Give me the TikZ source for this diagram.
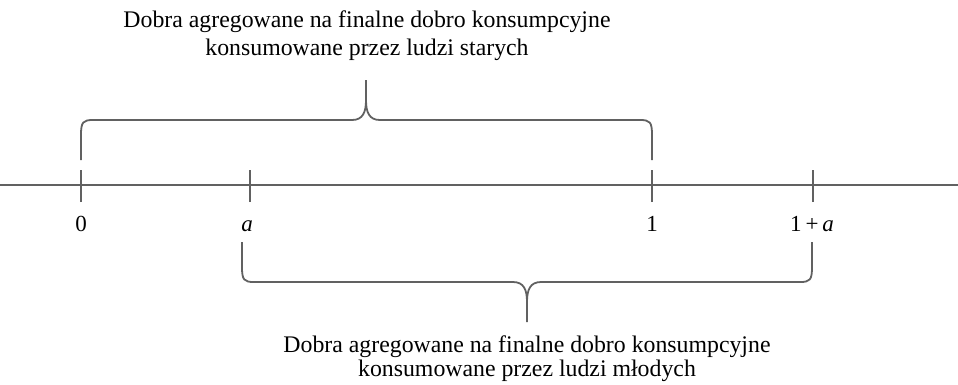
\documentclass[tikz,border=0pt]{standalone}
\usepackage{fontspec}
\setmainfont{Liberation Serif}
\begin{document}
\begin{tikzpicture}[x=1pt,y=-1pt,
  axisline/.style={draw=black!62, line width=1.8pt},
  braceline/.style={draw=black!62, line width=1.8pt, line join=round},
  ticklabel/.style={font=\fontsize{23}{27}\selectfont, inner sep=0pt, anchor=base},
  bracetext/.style={font=\fontsize{23.8}{28}\selectfont, inner sep=0pt, anchor=base}]
  \useasboundingbox (0,0) rectangle (958,384);

  % axis and tick positions
  \coordinate (L) at (0,185);
  \coordinate (R) at (958,185);
  \coordinate (t0) at (81,185);
  \coordinate (ta) at (250,185);
  \coordinate (t1) at (652,185);
  \coordinate (t1a) at (813,185);
  \draw[axisline] (L) -- (R);
  \foreach \t in {t0,ta,t1,t1a}
    \draw[axisline] ([yshift=-17pt]\t) -- ([yshift=15pt]\t);

  % tick labels
  \node[ticklabel] (l0) at (81,231) {0};
  \node[ticklabel] (la) at (247,231) {\textit{a}};
  \node[ticklabel] (l1) at (652,231) {1};
  \node[ticklabel] (l1a) at (812,231) {1\,+\,\textit{a}};

  % upper brace: from 0 to 1
  \draw[braceline] (81,160) -- (81,135) .. controls (81,122) and (83,120) .. (93,120)
    -- (352,120) .. controls (363,120) and (366,112) .. (366,100) -- (366,80);
  \draw[braceline] (652,160) -- (652,135) .. controls (652,122) and (650,120) .. (640,120)
    -- (380,120) .. controls (369,120) and (366,112) .. (366,100);

  % lower brace: from a to 1+a
  \draw[braceline] (242,242) -- (242,267) .. controls (242,280) and (244,282) .. (254,282)
    -- (513,282) .. controls (524,282) and (527,290) .. (527,302) -- (527,322);
  \draw[braceline] (812,242) -- (812,267) .. controls (812,280) and (810,282) .. (800,282)
    -- (541,282) .. controls (530,282) and (527,290) .. (527,302);

  % captions
  \node[bracetext] (top1) at (367,27) {Dobra agregowane na finalne dobro konsumpcyjne};
  \node[bracetext] (top2) at (367,55) {konsumowane przez ludzi starych};
  \node[bracetext] (bot1) at (527,352) {Dobra agregowane na finalne dobro konsumpcyjne};
  \node[bracetext] (bot2) at (527,376) {konsumowane przez ludzi młodych};
\end{tikzpicture}
\end{document}
